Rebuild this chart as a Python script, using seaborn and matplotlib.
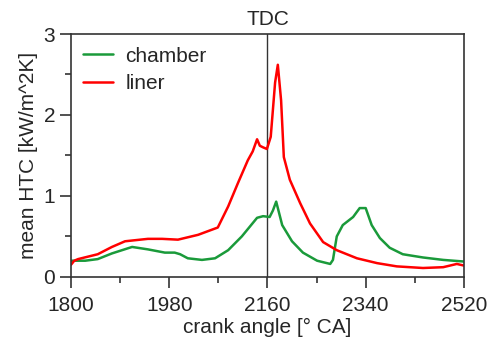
import numpy as np
import pandas as pd
import seaborn as sns
import matplotlib.pyplot as plt
from matplotlib.ticker import MultipleLocator

# values
angle_chamber = [1800, 1826, 1849, 1875, 1912, 1941, 1972, 1990, 2000, 2014, 2040, 2064, 2088,
                 2113, 2141, 2152, 2164, 2170, 2176, 2187, 2205, 2225, 2251, 2275, 2280, 2287,
                 2298, 2317, 2329, 2340, 2351, 2366, 2384, 2408, 2445, 2482, 2520]
htc_chamber = [0.20, 0.20, 0.22, 0.29, 0.37, 0.34, 0.30, 0.30, 0.28, 0.23, 0.21, 0.23, 0.33,
               0.50, 0.73, 0.75, 0.74, 0.82, 0.93, 0.64, 0.44, 0.30, 0.20, 0.16, 0.21, 0.50,
               0.64, 0.74, 0.85, 0.85, 0.64, 0.48, 0.36, 0.28, 0.24, 0.21, 0.19]

angle_liner = [1800, 1806, 1813, 1849, 1875, 1899, 1941, 1967, 1996, 2033, 2069, 2088, 2106,
               2124, 2133, 2141, 2146, 2152, 2159, 2166, 2174, 2179, 2185, 2190, 2201, 2220,
               2238, 2262, 2287, 2324, 2361, 2397, 2445, 2482, 2507, 2520]
htc_liner = [0.15, 0.20, 0.22, 0.28, 0.37, 0.44, 0.47, 0.47, 0.46, 0.52, 0.61, 0.87, 1.16,
             1.44, 1.55, 1.70, 1.62, 1.60, 1.58, 1.73, 2.40, 2.62, 2.18, 1.48, 1.20, 0.91,
             0.66, 0.43, 0.33, 0.23, 0.17, 0.13, 0.11, 0.12, 0.16, 0.14]

tdc_angle = 2160

sns.set_style('ticks')
plt.rcParams['font.family'] = ['Liberation Sans', 'DejaVu Sans']

fig = plt.figure(figsize=(4.93, 3.47), dpi=100)
ax = fig.add_axes([0.144, 0.202, 0.797, 0.700])

sns.lineplot(x=angle_chamber, y=htc_chamber, color='#1a9a3a', lw=1.8, label='chamber', ax=ax)
sns.lineplot(x=angle_liner, y=htc_liner, color='#ff0000', lw=1.8, label='liner', ax=ax)

ax.axvline(tdc_angle, color='#333333', lw=1.0, zorder=0)
ax.text(tdc_angle, 3.06, 'TDC', ha='center', va='bottom', fontsize=15)

ax.set_xlim(1800, 2520)
ax.set_ylim(0, 3)
ax.set_xticks([1800, 1980, 2160, 2340, 2520])
ax.set_yticks([0, 1, 2, 3])
ax.xaxis.set_minor_locator(MultipleLocator(90))
ax.yaxis.set_minor_locator(MultipleLocator(0.5))
ax.tick_params(which='major', length=8, width=1.2, color='#333333', labelsize=15, direction='out')
ax.tick_params(which='minor', length=4, width=1.2, color='#333333', direction='out')
ax.tick_params(axis='x', pad=6)

for s in ax.spines.values():
    s.set_color('#333333')
    s.set_linewidth(1.2)

ax.set_xlabel('crank angle [° CA]', fontsize=15, labelpad=2)
ax.set_ylabel('mean HTC [kW/m^2K]', fontsize=15, labelpad=4)

ax.legend(loc='upper left', frameon=False, fontsize=15, handlelength=1.4,
          borderaxespad=0.2, labelspacing=0.4, handletextpad=0.6)

fig.savefig('out.png', dpi=100)
